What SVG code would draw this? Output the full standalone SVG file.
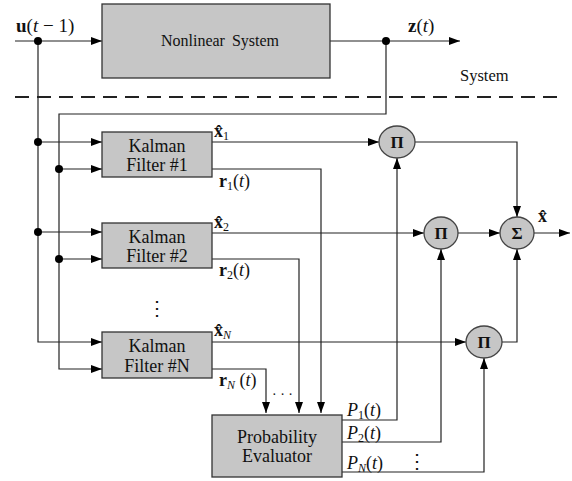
<svg xmlns="http://www.w3.org/2000/svg" width="572" height="481" viewBox="0 0 572 481">
<style>
.box{fill:#c6c6c6;stroke:#333;stroke-width:1.3}
.node{fill:#c6c6c6;stroke:#444;stroke-width:1.3}
.ln{fill:none;stroke:#222;stroke-width:1.2}
.dash{fill:none;stroke:#222;stroke-width:2;stroke-dasharray:14 8}
text{font-family:"Liberation Serif","DejaVu Serif","Times New Roman",serif;fill:#111}
.b{font-weight:bold}
.i{font-style:italic}
.dot{fill:#000}
</style>
<defs>
<marker id="ar" markerUnits="userSpaceOnUse" markerWidth="11" markerHeight="8" refX="11" refY="4" orient="auto">
<path d="M0,0 L11,4 L0,8 z" fill="#000"/>
</marker>
</defs>
<rect width="572" height="481" fill="#fff"/>
<g id="connectors">
<path class="ln" d="M15,41 H102" marker-end="url(#ar)"/>
<path class="ln" d="M330,41 H460" marker-end="url(#ar)"/>
<path class="ln" d="M386,41 V114 H59 V369 H102" marker-end="url(#ar)"/>
<path class="ln" d="M38,41 V342 H102" marker-end="url(#ar)"/>
<path class="ln" d="M38,142 H102" marker-end="url(#ar)"/>
<path class="ln" d="M59,169 H102" marker-end="url(#ar)"/>
<path class="ln" d="M38,232 H102" marker-end="url(#ar)"/>
<path class="ln" d="M59,259 H102" marker-end="url(#ar)"/>
<path class="ln" d="M212,142 H379" marker-end="url(#ar)"/>
<path class="ln" d="M212,233 H424" marker-end="url(#ar)"/>
<path class="ln" d="M212,342 H466" marker-end="url(#ar)"/>
<path class="ln" d="M212,169 H321 V413" marker-end="url(#ar)"/>
<path class="ln" d="M212,259 H299 V413" marker-end="url(#ar)"/>
<path class="ln" d="M212,369 H266 V413" marker-end="url(#ar)"/>
<path class="ln" d="M342,420 H397 V158" marker-end="url(#ar)"/>
<path class="ln" d="M342,442 H441 V249" marker-end="url(#ar)"/>
<path class="ln" d="M342,472 H484 V358" marker-end="url(#ar)"/>
<path class="ln" d="M415,142 H517 V217" marker-end="url(#ar)"/>
<path class="ln" d="M502,342 H517 V249" marker-end="url(#ar)"/>
<path class="ln" d="M458,233 H500" marker-end="url(#ar)"/>
<path class="ln" d="M534,233 H570" marker-end="url(#ar)"/>
<circle class="dot" cx="38" cy="41" r="4"/>
<circle class="dot" cx="386" cy="41" r="4"/>
<circle class="dot" cx="38" cy="142" r="4"/>
<circle class="dot" cx="59" cy="169" r="4"/>
<circle class="dot" cx="38" cy="232" r="4"/>
<circle class="dot" cx="59" cy="259" r="4"/>
</g>
<path class="dash" d="M15,97 H562"/>
<g id="nonlinear">
<rect class="box" x="102" y="4" width="228" height="74"/>
<text x="220" y="46" font-size="16" text-anchor="middle" word-spacing="3">Nonlinear System</text>
</g>
<g id="kf1">
<rect class="box" x="102" y="132" width="110" height="45"/>
<text x="157" y="152" font-size="18" text-anchor="middle">Kalman</text>
<text x="157" y="171" font-size="18" text-anchor="middle">Filter #1</text>
</g>
<g id="kf2">
<rect class="box" x="102" y="223" width="110" height="45"/>
<text x="157" y="243" font-size="18" text-anchor="middle">Kalman</text>
<text x="157" y="262" font-size="18" text-anchor="middle">Filter #2</text>
</g>
<g id="kfN">
<rect class="box" x="102" y="332" width="110" height="46"/>
<text x="157" y="352" font-size="18" text-anchor="middle">Kalman</text>
<text x="157" y="372" font-size="18" text-anchor="middle">Filter #N</text>
</g>
<g id="prob">
<rect class="box" x="212" y="415" width="130" height="62"/>
<text x="277" y="443" font-size="18" text-anchor="middle">Probability</text>
<text x="277" y="462" font-size="18" text-anchor="middle">Evaluator</text>
</g>
<g id="pi1">
<ellipse class="node" cx="397" cy="142" rx="18" ry="16"/>
<text class="b" x="397" y="148" font-size="17" text-anchor="middle">Π</text>
</g>
<g id="pi2">
<ellipse class="node" cx="441" cy="233" rx="17" ry="16"/>
<text class="b" x="441" y="239" font-size="17" text-anchor="middle">Π</text>
</g>
<g id="piN">
<ellipse class="node" cx="484" cy="342" rx="18" ry="16"/>
<text class="b" x="484" y="348" font-size="17" text-anchor="middle">Π</text>
</g>
<g id="sigma">
<ellipse class="node" cx="517" cy="233" rx="17" ry="16"/>
<text class="b" x="517" y="239" font-size="17" text-anchor="middle">Σ</text>
</g>
<g id="labels">
<text x="16" y="32" font-size="19"><tspan class="b">u</tspan>(<tspan class="i">t</tspan> − 1)</text>
<text x="408" y="32" font-size="19"><tspan class="b">z</tspan>(<tspan class="i">t</tspan>)</text>
<text x="460" y="81" font-size="16.5">System</text>
<text x="214" y="137" font-size="18"><tspan class="b">x̂</tspan><tspan font-size="12" dy="3">1</tspan></text>
<text x="219" y="187" font-size="18"><tspan class="b">r</tspan><tspan font-size="12" dy="3">1</tspan><tspan dy="-3">(</tspan><tspan class="i">t</tspan>)</text>
<text x="214" y="228" font-size="18"><tspan class="b">x̂</tspan><tspan font-size="12" dy="3">2</tspan></text>
<text x="219" y="276" font-size="18"><tspan class="b">r</tspan><tspan font-size="12" dy="3">2</tspan><tspan dy="-3">(</tspan><tspan class="i">t</tspan>)</text>
<text x="214" y="336" font-size="18"><tspan class="b">x̂</tspan><tspan class="i" font-size="12" dy="3">N</tspan></text>
<text x="219" y="386" font-size="18"><tspan class="b">r</tspan><tspan class="i" font-size="12" dy="3">N</tspan><tspan dy="-3"> (</tspan><tspan class="i">t</tspan>)</text>
<text class="b" x="538" y="222" font-size="18">x̂</text>
<text x="347" y="416" font-size="18"><tspan class="i">P</tspan><tspan font-size="12" dy="3">1</tspan><tspan dy="-3">(</tspan><tspan class="i">t</tspan>)</text>
<text x="347" y="439" font-size="18"><tspan class="i">P</tspan><tspan font-size="12" dy="3">2</tspan><tspan dy="-3">(</tspan><tspan class="i">t</tspan>)</text>
<text x="347" y="469" font-size="18"><tspan class="i">P</tspan><tspan class="i" font-size="12" dy="3">N</tspan><tspan dy="-3">(</tspan><tspan class="i">t</tspan>)</text>
<text x="272" y="399" font-size="14">· · ·</text>
<text x="157" y="315" font-size="20" text-anchor="middle">⋮</text>
<text x="417" y="468" font-size="20" text-anchor="middle">⋮</text>
</g>
</svg>
